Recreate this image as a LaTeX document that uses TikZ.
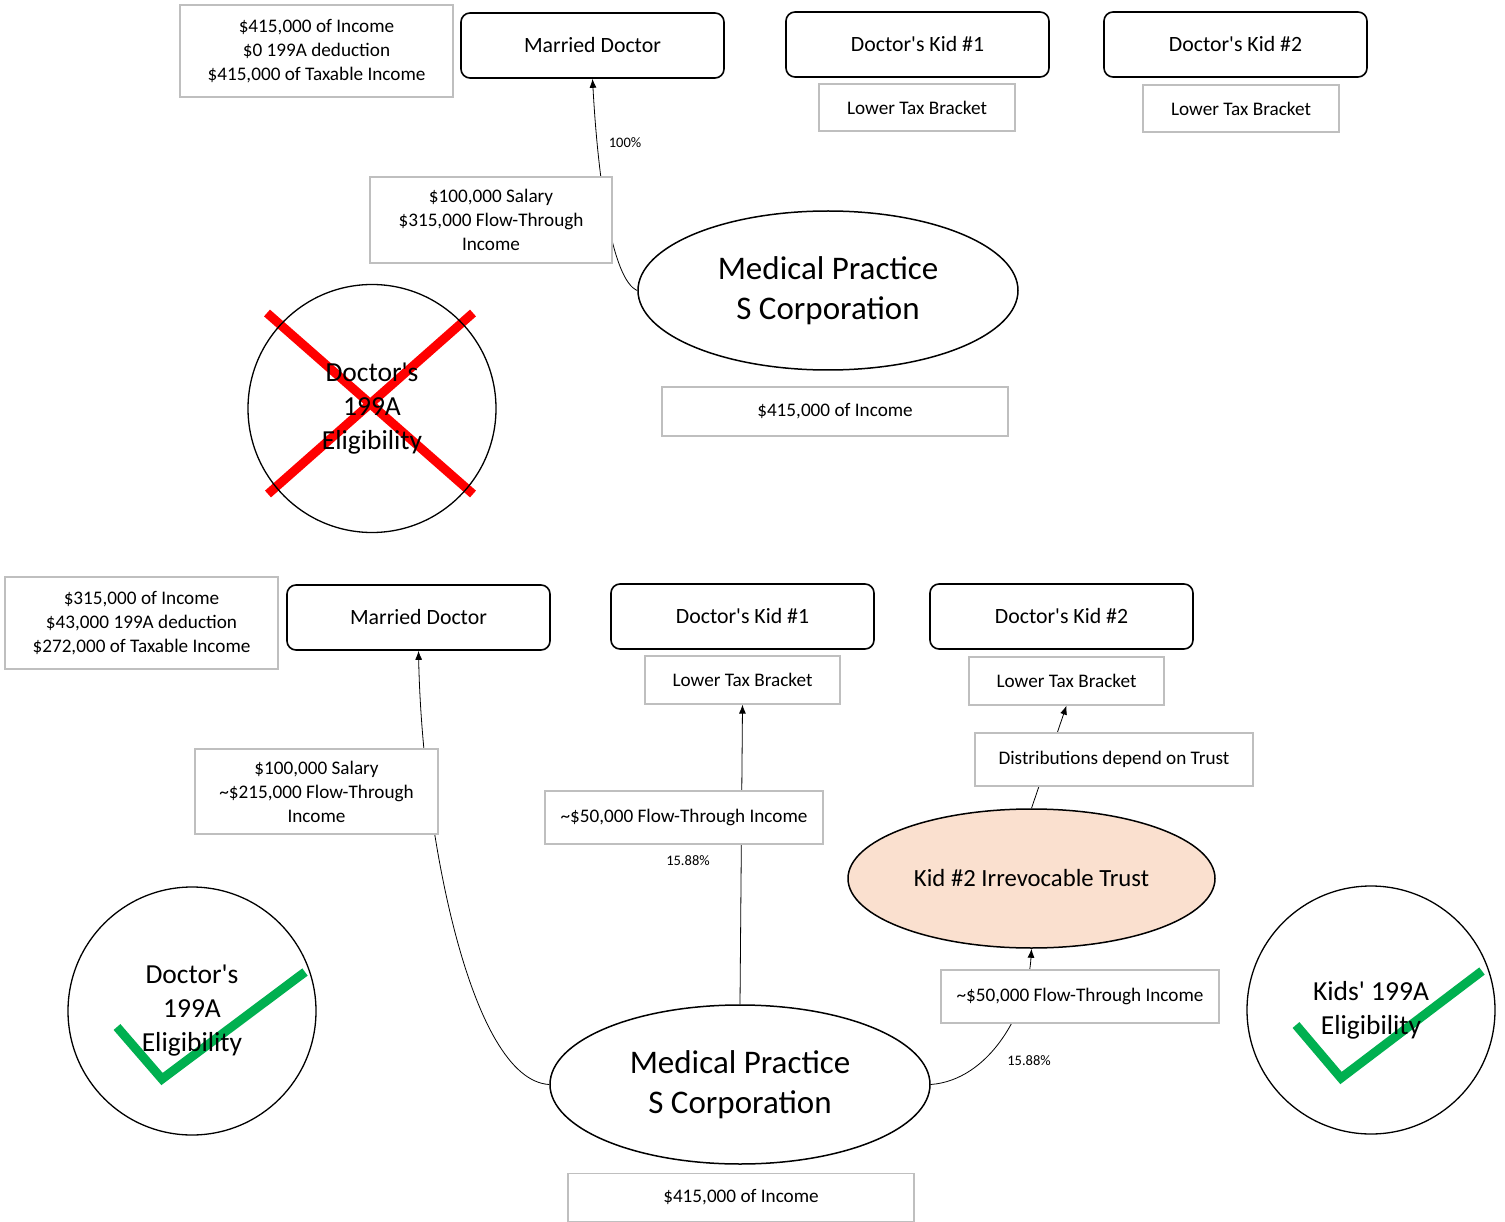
\documentclass[tikz,border=0pt]{standalone}
\usepackage{fontspec}
\newfontfamily\carl{Carlito}
\usetikzlibrary{shapes.geometric,arrows.meta,backgrounds}
\definecolor{boxgray}{RGB}{191,191,191}
\definecolor{peach}{RGB}{250,224,207}
\definecolor{xred}{RGB}{255,0,0}
\definecolor{okgreen}{RGB}{0,176,80}
\tikzset{
 lbl/.style={draw=boxgray, line width=1.2pt, fill=white, inner sep=0pt, align=center, font={\carl\fontsize{19.2}{24}\selectfont}},
 party/.style={draw=black, line width=1.6pt, rounded corners=9pt, fill=white, minimum width=263pt, minimum height=65pt, inner sep=0pt, font={\carl\fontsize{21.8}{26}\selectfont}},
 corp/.style={ellipse, draw=black, line width=1.5pt, fill=white, minimum width=380pt, minimum height=159pt, inner sep=0pt, align=center, font={\carl\fontsize{33}{40}\selectfont}},
 trustnode/.style={ellipse, draw=black, line width=1.5pt, fill=peach, minimum width=367pt, minimum height=139pt, inner sep=0pt, align=center, font={\carl\fontsize{24.7}{30}\selectfont}},
 elig/.style={circle, draw=black, line width=1.3pt, minimum size=248pt, inner sep=0pt, align=center, font={\carl\fontsize{27.5}{34}\selectfont}},
 pct/.style={inner sep=0pt, font={\carl\fontsize{14.5}{17}\selectfont}},
 flow/.style={line width=0.8pt, -{Latex[length=9pt,width=7pt]}},
 cross/.style={xred, line width=9pt},
 tick/.style={okgreen, line width=9pt, line join=miter},
}
\begin{document}
\begin{tikzpicture}[x=1pt,y=-1pt]
\begin{scope}[on background layer]
\fill[white] (0,0) rectangle (1505,1222);
\end{scope}
\useasboundingbox (0,0) rectangle (1505,1222);

% ---------- top scenario ----------
\node[lbl, minimum width=273pt, minimum height=92pt] (inc1) at (316.5,51) {\$415,000 of Income\\\$0 199A deduction\\\$415,000 of Taxable Income};
\node[party] (md1) at (592.5,45.5) {Married Doctor};
\node[party] (k1a) at (917.5,44.5) {Doctor's Kid \#1};
\node[party] (k2a) at (1235.5,44.5) {Doctor's Kid \#2};
\node[lbl, minimum width=196pt, minimum height=47pt] (ltb1a) at (917,107.5) {Lower Tax Bracket};
\node[lbl, minimum width=196pt, minimum height=47pt] (ltb2a) at (1241,108.5) {Lower Tax Bracket};
\node[lbl, minimum width=242pt, minimum height=86pt] (sal1) at (491,220) {\$100,000 Salary\\\$315,000 Flow-Through\\Income};
\node[corp] (mp1) at (828,290.5) {Medical Practice\\S Corporation};
\node[lbl, minimum width=346pt, minimum height=49pt] (inc2) at (835,411.5) {\$415,000 of Income};
\node[pct] (p100) at (625,143) {100\%};
\node[elig] (elig1) at (372,408.5) {Doctor's\\199A\\Eligibility};

% ---------- bottom scenario ----------
\node[lbl, minimum width=273pt, minimum height=92pt] (inc3) at (141.5,623) {\$315,000 of Income\\\$43,000 199A deduction\\\$272,000 of Taxable Income};
\node[party] (md2) at (418.5,617.5) {Married Doctor};
\node[party] (k1b) at (742.5,616.5) {Doctor's Kid \#1};
\node[party] (k2b) at (1061.5,616.5) {Doctor's Kid \#2};
\node[lbl, minimum width=195pt, minimum height=48pt] (ltb1b) at (742.5,680) {Lower Tax Bracket};
\node[lbl, minimum width=195pt, minimum height=48pt] (ltb2b) at (1066.5,681) {Lower Tax Bracket};
\node[lbl, minimum width=278pt, minimum height=53pt] (dist) at (1114,759.5) {Distributions depend on Trust};
\node[trustnode] (trust) at (1031.5,878.5) {Kid \#2 Irrevocable Trust};
\node[lbl, minimum width=243pt, minimum height=85pt] (sal2) at (316.5,791.5) {\$100,000 Salary\\\textasciitilde\$215,000 Flow-Through\\Income};
\node[lbl, minimum width=278pt, minimum height=53pt] (ft1) at (684,817.5) {\textasciitilde\$50,000 Flow-Through Income};
\node[pct] (p1588a) at (688,861) {15.88\%};
\node[lbl, minimum width=278pt, minimum height=53pt] (ft2) at (1080,996.5) {\textasciitilde\$50,000 Flow-Through Income};
\node[pct] (p1588b) at (1029,1061) {15.88\%};
\node[corp] (mp2) at (740,1084.5) {Medical Practice\\S Corporation};
\node[lbl, minimum width=346pt, minimum height=48pt] (inc4) at (741,1197.5) {\$415,000 of Income};
\node[elig] (elig2) at (192,1011) {Doctor's\\199A\\Eligibility};
\node[elig] (elig3) at (1371,1010) {Kids' 199A\\Eligibility};

\begin{scope}[on background layer]
 % connectors
 \draw[flow] (mp1.west) .. controls (612,280) and (598,180) .. (md1.south);
 \draw[flow] (mp2.west) .. controls (470,1080) and (422,830) .. (md2.south);
 \draw[flow] (mp2.north) -- (ltb1b.south);
 \draw[flow] (mp2.east) .. controls (990,1080) and (1028,1010) .. (trust.south);
 \draw[flow] (trust.north) -- (ltb2b.south);
 % marks
 \draw[cross] (267,313) -- (473,494);
 \draw[cross] (473,313) -- (268,494);
 \draw[tick] (117,1027) -- (162,1079) -- (305,972);
 \draw[tick] (1296,1025) -- (1341,1078) -- (1482,971);
\end{scope}
\end{tikzpicture}
\end{document}
